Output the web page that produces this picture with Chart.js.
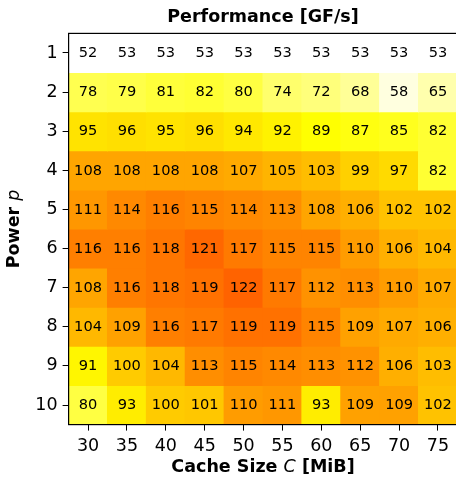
<!DOCTYPE html>
<html>
<head>
<meta charset="utf-8">
<script src="https://cdn.jsdelivr.net/npm/chart.js@4"></script>
<style>
  html, body { margin: 0; padding: 0; background: #fff; overflow: hidden; }
  #wrap { width: 458px; height: 481px; }
</style>
</head>
<body>
<div id="wrap"><canvas id="c" width="458" height="481" style="width:458px;height:481px"></canvas></div>
<script>
const cacheSizes = ['30', '35', '40', '45', '50', '55', '60', '65', '70', '75'];
const powers = [1, 2, 3, 4, 5, 6, 7, 8, 9, 10];
const row1  = [52, 53, 53, 53, 53, 53, 53, 53, 53, 53];
const row2  = [78, 79, 81, 82, 80, 74, 72, 68, 58, 65];
const row3  = [95, 96, 95, 96, 94, 92, 89, 87, 85, 82];
const row4  = [108, 108, 108, 108, 107, 105, 103, 99, 97, 82];
const row5  = [111, 114, 116, 115, 114, 113, 108, 106, 102, 102];
const row6  = [116, 116, 118, 121, 117, 115, 115, 110, 106, 104];
const row7  = [108, 116, 118, 119, 122, 117, 112, 113, 110, 107];
const row8  = [104, 109, 116, 117, 119, 119, 115, 109, 107, 106];
const row9  = [91, 100, 104, 113, 115, 114, 113, 112, 106, 103];
const row10 = [80, 93, 100, 101, 110, 111, 93, 109, 109, 102];
const rows = [row1, row2, row3, row4, row5, row6, row7, row8, row9, row10];

const chartTitle = 'Performance [GF/s]';
const xTitleParts = [['Cache Size ', 'bold'], ['C', 'italic'], [' [MiB]', 'bold']];
const yTitleParts = [['Power ', 'bold'], ['p', 'italic']];

const vmin = 53.5, vmax = 194;
function hotR(v) {
  let t = (v - vmin) / (vmax - vmin);
  t = Math.max(0, Math.min(1, t));
  const s = 1 - t;
  const r = s < 0.365079 ? 0.0416 + (1 - 0.0416) * s / 0.365079 : 1;
  const g = s < 0.365079 ? 0 : (s < 0.746032 ? (s - 0.365079) / (0.746032 - 0.365079) : 1);
  const b = s < 0.746032 ? 0 : (s - 0.746032) / (1 - 0.746032);
  return `rgb(${Math.round(r*255)},${Math.round(g*255)},${Math.round(b*255)})`;
}

const datasets = rows.map((vals, i) => ({
  label: 'p=' + powers[i],
  data: vals.map(() => [powers[i] - 0.5, powers[i] + 0.5]),
  values: vals,
  backgroundColor: vals.map(hotR),
  borderWidth: 0,
  inflateAmount: 0.5,
  barPercentage: 1,
  categoryPercentage: 1,
  grouped: false
}));

const FS = 17.5;
function fontFor(style, size) {
  return (style === 'italic' ? 'italic ' : 'bold ') + size + 'px "DejaVu Sans"';
}
function drawParts(ctx, parts, cx, cy) {
  let total = 0;
  parts.forEach(([t, s]) => { ctx.font = fontFor(s, FS); total += ctx.measureText(t).width; });
  let x = cx - total / 2;
  parts.forEach(([t, s]) => {
    ctx.font = fontFor(s, FS);
    ctx.fillText(t, x, cy);
    x += ctx.measureText(t).width;
  });
}

const cellLabels = {
  id: 'cellLabels',
  afterDatasetsDraw(chart) {
    const ctx = chart.ctx;
    ctx.save();
    ctx.font = '14.6px "DejaVu Sans"';
    ctx.fillStyle = '#000';
    ctx.textAlign = 'center';
    ctx.textBaseline = 'middle';
    chart.data.datasets.forEach((ds, di) => {
      const meta = chart.getDatasetMeta(di);
      meta.data.forEach((el, j) => {
        const p = el.getProps(['x', 'y', 'base'], true);
        ctx.fillText(String(ds.values[j]), p.x, (p.y + p.base) / 2 + 0.5);
      });
    });
    const a = chart.chartArea;
    ctx.strokeStyle = '#000';
    ctx.lineWidth = 1.2;
    ctx.strokeRect(a.left, a.top, a.right - a.left, a.bottom - a.top);

    // titles
    ctx.textAlign = 'left';
    ctx.textBaseline = 'middle';
    const cx = (a.left + a.right) / 2;
    const cy = (a.top + a.bottom) / 2;
    ctx.font = fontFor('bold', FS);
    ctx.textAlign = 'center';
    ctx.fillText(chartTitle, cx, 17);
    ctx.textAlign = 'left';
    drawParts(ctx, xTitleParts, cx, 467);
    ctx.save();
    ctx.translate(14, cy);
    ctx.rotate(-Math.PI / 2);
    drawParts(ctx, yTitleParts, 0, 0);
    ctx.restore();
    ctx.restore();
  }
};

new Chart(document.getElementById('c'), {
  type: 'bar',
  data: { labels: cacheSizes, datasets },
  options: {
    responsive: false,
    animation: false,
    layout: { padding: { left: 0, right: 0.6, top: 33.4, bottom: 0 } },
    plugins: {
      legend: { display: false },
      tooltip: { enabled: false },
      title: { display: false }
    },
    scales: {
      x: {
        type: 'category',
        offset: true,
        grid: { offset: false, drawOnChartArea: false, drawTicks: true, tickLength: 6, color: '#000' },
        border: { display: true, color: '#000', width: 1 },
        ticks: { color: '#000', padding: 5, maxRotation: 0, font: { family: 'DejaVu Sans', size: FS } },
        title: { display: false },
        afterFit(scale) { scale.height = 56.4; }
      },
      y: {
        type: 'linear',
        reverse: true,
        min: 0.5,
        max: 10.5,
        afterBuildTicks(scale) { scale.ticks = powers.map(v => ({ value: v })); },
        grid: { drawOnChartArea: false, drawTicks: true, tickLength: 6, color: '#000' },
        border: { display: true, color: '#000', width: 1 },
        ticks: { color: '#000', padding: 5, font: { family: 'DejaVu Sans', size: FS } },
        title: { display: false },
        afterFit(scale) { scale.width = 68.6; }
      }
    }
  },
  plugins: [cellLabels]
});
</script>
</body>
</html>
